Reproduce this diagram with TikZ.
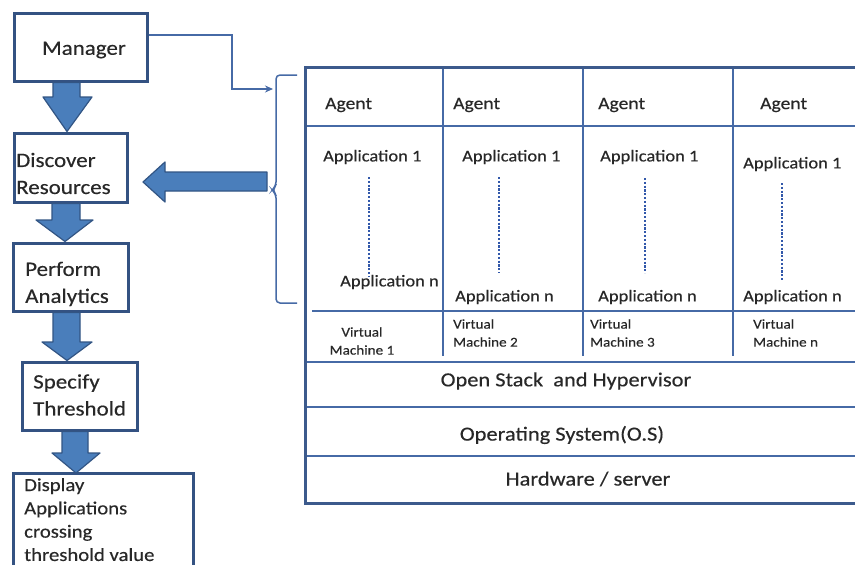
\documentclass[tikz,border=0pt]{standalone}
\usepackage{fontspec}
\setmainfont[FakeStretch=1.12,FakeBold=0.35]{Carlito}
\usetikzlibrary{arrows.meta,calc}
\definecolor{boxc}{RGB}{52,82,130}
\definecolor{linec}{RGB}{70,106,166}
\definecolor{outc}{RGB}{60,90,140}
\definecolor{arrf}{RGB}{74,126,187}
\definecolor{arrd}{RGB}{50,85,132}
\definecolor{txt}{RGB}{40,40,40}
\definecolor{dotc}{RGB}{50,88,170}
\begin{document}
\begin{tikzpicture}[x=1pt,y=-1pt,
  lbox/.style={draw=boxc,line width=3pt,inner sep=0pt,fill=white},
  ltext/.style={inner sep=0pt,text=txt,font=\fontsize{20.5}{27}\selectfont,align=left},
  dtext/.style={inner sep=0pt,text=txt,font=\fontsize{18.5}{23.3}\selectfont,align=left},
  agtext/.style={inner sep=0pt,text=txt,anchor=west,font=\fontsize{17.5}{20}\selectfont},
  aptext/.style={inner sep=0pt,text=txt,anchor=west,font=\fontsize{16.5}{20}\selectfont},
  vmtext/.style={inner sep=0pt,text=txt,font=\fontsize{13.5}{18}\selectfont},
  laytext/.style={inner sep=0pt,text=txt,font=\fontsize{20}{24}\selectfont},
  blk/.style={fill=arrf,draw=arrd,line width=1.2pt,line join=round},
  conn/.style={draw=linec,line width=1.5pt},
  tline/.style={draw=linec,line width=2.2pt},
  oline/.style={draw=outc,line width=3pt},
  dotline/.style={draw=dotc,line width=2.8pt,dash pattern=on 2.2pt off 1.6pt}]
\useasboundingbox (0,0) rectangle (855,565);
\fill[white] (0,0) rectangle (855,565);

% ---- left boxes (shapes) ----
\node[lbox,minimum width=133pt,minimum height=68pt] (mgr) at (80.5,47) {};
\node[lbox,minimum width=113pt,minimum height=69pt] (disc) at (70.5,167.5) {};
\node[lbox,minimum width=115pt,minimum height=68pt] (perf) at (70.5,277) {};
\node[lbox,minimum width=115pt,minimum height=68pt] (spec) at (79.5,396) {};
\coordinate (dispnw) at (13,473);
\coordinate (dispne) at (193,473);
\draw[boxc,line width=3pt] (13,570) -- (dispnw) -- (dispne) -- (193,570);

% ---- block arrows ----
\filldraw[blk] (53,0 |- mgr.south) -- (80,0 |- mgr.south) -- (80,97) -- (92,97) -- (67,0 |- disc.north) -- (43,97) -- (53,97) -- cycle;
\filldraw[blk] (52,0 |- disc.south) -- (80,0 |- disc.south) -- (80,220) -- (93,220) -- (65,0 |- perf.north) -- (36,220) -- (52,220) -- cycle;
\filldraw[blk] (53,0 |- perf.south) -- (80,0 |- perf.south) -- (80,342) -- (92,342) -- (67,0 |- spec.north) -- (42,342) -- (53,342) -- cycle;
\filldraw[blk] (62,0 |- spec.south) -- (88,0 |- spec.south) -- (88,453) -- (100,453) -- (76,0 |- dispnw) -- (52,453) -- (62,453) -- cycle;

% ---- texts of left boxes ----
\node[ltext] (tmgr) at (84,50) {Manager};
\node[ltext,anchor=west] (tdisc) at (16,173.5) {Discover\\Resources};
\node[ltext,anchor=west] (tperf) at (25,284) {Perform\\Analytics};
\node[ltext,anchor=west] (tspec) at (33,395) {Specify\\Threshold};
\node[dtext,anchor=north west] (tdisp) at (24,478) {Display\\Applications\\crossing\\threshold value};

% ---- bracket and connectors ----
\coordinate (brtop) at (297,75);
\coordinate (brbot) at (297,303);
\coordinate (brin) at (273,89);
\coordinate (brtip) at (272,190);
\draw[conn,rounded corners=4pt] (brtop) -- (276,75) -- (276,186) -- (brtip) -- (276,194) -- (276,303) -- (brbot);
\draw[conn,-{Stealth[length=8pt,width=7pt]}] (mgr.east |- 0,35) -- (232,35) -- (232,89) -- (brin);
\coordinate (bigtail) at (267,181);
\coordinate (bigtip) at (143,182);
\filldraw[blk] (bigtail |- 0,172) -- (165,172) -- (165,162) -- (bigtip) -- (165,202) -- (165,191) -- (bigtail |- 0,191) -- cycle;

% ---- table lines ----
\draw[tline] (305,126) -- (855,126);
\draw[tline] (312,311) -- (855,311);
\draw[tline] (305,362) -- (855,362);
\draw[tline] (305,407) -- (855,407);
\draw[tline] (305,456) -- (855,456);
\draw[tline] (443,67) -- (443,356);
\draw[tline] (583,67) -- (583,356);
\draw[tline] (733,67) -- (733,356);
\draw[oline] (856,67) -- (305,67) -- (305,503) -- (856,503);

% ---- table texts ----
\node[agtext] (ag1) at (325,105) {Agent};
\node[agtext] (ag2) at (453,105) {Agent};
\node[agtext] (ag3) at (598,105) {Agent};
\node[agtext] (ag4) at (760,105) {Agent};

\node[aptext] (a11) at (323,157) {Application 1};
\node[aptext] (a21) at (462,157) {Application 1};
\node[aptext] (a31) at (600,157) {Application 1};
\node[aptext] (a41) at (743,164) {Application 1};

\node[aptext] (a1n) at (340,282) {Application n};
\node[aptext] (a2n) at (455,297) {Application n};
\node[aptext] (a3n) at (598,297) {Application n};
\node[aptext] (a4n) at (743,297) {Application n};

\draw[dotline] (369,177) -- (369,276);
\draw[dotline] (499,177) -- (499,273);
\draw[dotline] (645,178) -- (645,273);
\draw[dotline] (782,183) -- (782,280);

\node[vmtext,align=center] (vm1) at (362,341) {Virtual\\Machine 1};
\node[vmtext,align=left,anchor=west] (vm2) at (453,333) {Virtual\\Machine 2};
\node[vmtext,align=left,anchor=west] (vm3) at (590,333) {Virtual\\Machine 3};
\node[vmtext,align=left,anchor=west] (vm4) at (753,333) {Virtual\\Machine n};

\node[laytext] (los) at (566,381) {Open Stack\ \ and Hypervisor};
\node[laytext] (los2) at (562,435) {Operating System(O.S)};
\node[laytext] (lhw) at (588,479) {Hardware / server};
\end{tikzpicture}
\end{document}
